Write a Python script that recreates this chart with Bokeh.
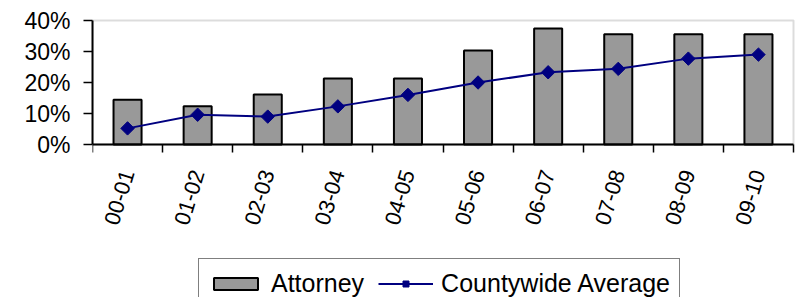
import math
from bokeh.plotting import figure
from bokeh.models import (Range1d, LinearAxis, FixedTicker, BoxAnnotation,
                          NumeralTickFormatter, Legend, LegendItem, ColumnDataSource)
from bokeh.embed import file_html
from bokeh.resources import INLINE

years = ["00-01", "01-02", "02-03", "03-04", "04-05", "05-06", "06-07", "07-08", "08-09", "09-10"]
attorney = [0.144, 0.123, 0.161, 0.213, 0.213, 0.303, 0.374, 0.356, 0.356, 0.356]
countywide = [0.052, 0.096, 0.090, 0.123, 0.160, 0.200, 0.233, 0.244, 0.277, 0.290]
y_ticks = [0.0, 0.1, 0.2, 0.3, 0.4]
Y_MAX = 0.4

FONT = "Liberation Sans"

# ---- layout constants (pixels) ----
W, H = 798, 297
LEFT, RIGHT, TOP = 92, 3, 18
PLOT_X1 = 793          # right edge of plot area
PLOT_Y0, PLOT_Y1 = 20, 144   # top / bottom of plot area

n = len(years)
centers = [i + 0.5 for i in range(n)]
src = ColumnDataSource(dict(x=centers, attorney=attorney, countywide=countywide))

frame_w = W - LEFT - RIGHT
frame_h = H - TOP
px_x = (PLOT_X1 - LEFT) / n
px_y = (PLOT_Y1 - PLOT_Y0) / Y_MAX
x_end = frame_w / px_x
y_end = Y_MAX + (PLOT_Y0 - TOP) / px_y
y_start = y_end - frame_h / px_y

p = figure(width=W, height=H, output_backend="svg", toolbar_location=None,
           x_range=Range1d(0, x_end), y_range=Range1d(y_start, y_end),
           x_axis_location=None, y_axis_location=None,
           min_border_left=LEFT, min_border_right=RIGHT, min_border_top=TOP, min_border_bottom=0)
p.grid.visible = False
p.outline_line_color = None
p.background_fill_color = "white"
p.border_fill_color = "white"

# plot-area border (grey top/right)
p.add_layout(BoxAnnotation(left=0, right=n, bottom=0, top=Y_MAX, fill_alpha=0,
                           line_color="#8c8c8c", line_width=2, level="underlay"))

# y axis
yax = LinearAxis(ticker=FixedTicker(ticks=y_ticks), formatter=NumeralTickFormatter(format="0%"),
                 bounds=(0, Y_MAX))
yax.axis_line_color = "black"
yax.axis_line_width = 2
yax.major_tick_line_width = 1.5
yax.major_tick_out = 9
yax.major_tick_in = 0
yax.minor_tick_line_color = None
yax.major_label_standoff = 13
yax.major_label_text_font = FONT
yax.major_label_text_font_size = "23px"
yax.major_label_text_color = "black"
p.add_layout(yax, "left")

# x axis: ticks at category boundaries
xtick = LinearAxis(ticker=FixedTicker(ticks=list(range(n + 1))), fixed_location=0, bounds=(0, n))
xtick.axis_line_color = "black"
xtick.axis_line_width = 2
xtick.major_tick_line_width = 1.5
xtick.major_tick_out = 8
xtick.major_tick_in = 0
xtick.minor_tick_line_color = None
xtick.major_label_overrides = {i: "" for i in range(n + 1)}
xtick.major_label_text_font_size = "1px"
xtick.major_label_standoff = 0
p.add_layout(xtick, "below")

# x axis: category labels at category centres
xlab = LinearAxis(ticker=FixedTicker(ticks=centers), fixed_location=0)
xlab.major_label_overrides = {c: y for c, y in zip(centers, years)}
xlab.axis_line_color = None
xlab.major_tick_line_color = None
xlab.major_tick_out = 0
xlab.major_tick_in = 0
xlab.minor_tick_line_color = None
xlab.major_label_orientation = math.radians(73)
xlab.major_label_standoff = 26
xlab.major_label_text_font = FONT
xlab.major_label_text_font_size = "22px"
xlab.major_label_text_color = "black"
p.add_layout(xlab, "below")

bars = p.vbar(x="x", top="attorney", width=0.4, source=src,
              fill_color="#999999", line_color="black", line_width=2)
line = p.line(x="x", y="countywide", source=src, line_color="#000080", line_width=2)
pts = p.scatter(x="x", y="countywide", source=src, marker="square", angle=math.pi / 4,
                size=9.5, fill_color="#000080", line_color="#000080")

legend = Legend(items=[LegendItem(label="Attorney", renderers=[bars]),
                       LegendItem(label="Countywide Average", renderers=[line, pts])],
                orientation="horizontal", location=(106, -11))
legend.label_text_font = FONT
legend.label_text_font_size = "25px"
legend.label_text_color = "black"
legend.glyph_width = 55
legend.glyph_height = 15
legend.label_height = 30
legend.label_standoff = 8
legend.spacing = 14
legend.padding = 9
legend.margin = 0
legend.border_line_color = "black"
legend.border_line_width = 1.5
legend.background_fill_alpha = 1
p.add_layout(legend, "center")

open("out.html", "w").write(file_html(p, INLINE))
